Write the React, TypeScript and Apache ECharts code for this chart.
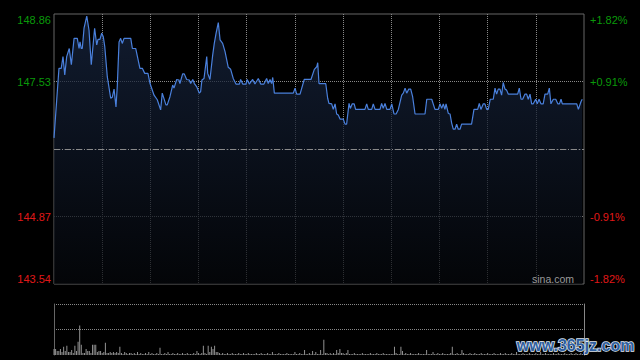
import React, { useEffect, useRef } from "react";
import * as echarts from "echarts";

// Intraday price: [minute since open, price]
const pricePoints: [number, number][] = [
  [0, 146.42], [3.1, 147.79], [4.5, 147.79], [5.6, 148.02], [6.7, 147.66], [7.9, 148.02], [9.5, 148.18], [10.8, 147.86],
  [12.5, 148.38], [14.5, 148.38], [15.6, 148.18], [16.2, 148.31], [17.0, 148.18], [17.6, 148.18], [18.7, 148.58], [20.4, 148.82],
  [21.8, 148.54], [23.2, 147.86], [25.3, 148.58], [26.6, 148.25], [27.4, 148.36], [28.6, 148.36], [29.7, 148.48], [30.7, 148.41],
  [31.6, 148.22], [33.2, 147.62], [35.3, 147.20], [36.3, 147.22], [37.4, 147.38], [38.6, 147.03], [39.4, 147.43], [40.5, 148.31],
  [41.5, 148.38], [42.5, 148.28], [43.6, 148.38], [47.8, 148.38], [48.8, 148.18], [50.9, 148.18], [53.5, 147.79], [55.0, 147.79],
  [56.5, 147.69], [58.5, 147.69], [59.8, 147.49], [62.3, 147.26], [64.3, 147.17], [66.4, 146.97], [67.4, 147.30], [69.7, 147.07],
  [70.5, 147.07], [72.2, 147.23], [73.9, 147.46], [74.7, 147.40], [76.4, 147.57], [77.8, 147.56], [78.4, 147.49], [80.1, 147.68],
  [81.1, 147.68], [82.6, 147.57], [84.2, 147.56], [85.1, 147.49], [86.4, 147.57], [87.4, 147.49], [88.8, 147.43], [90.5, 147.30],
  [91.3, 147.33], [92.1, 147.56], [93.4, 147.59], [95.1, 148.02], [95.7, 147.69], [97.1, 147.57], [98.8, 148.05], [99.8, 148.28],
  [100.9, 148.48], [102.3, 148.69], [103.4, 148.35], [105.0, 148.28], [106.5, 148.12], [108.5, 147.81], [110.0, 147.77], [111.6, 147.59],
  [113.3, 147.48], [115.4, 147.48], [116.2, 147.57], [117.5, 147.48], [119.5, 147.48], [120.3, 147.57], [121.6, 147.48], [123.7, 147.57],
  [125.1, 147.48], [127.2, 147.59], [128.7, 147.48], [130.7, 147.48], [132.4, 147.59], [133.4, 147.49], [134.5, 147.57], [135.5, 147.49],
  [136.2, 147.61], [137.2, 147.30], [149.0, 147.30], [150.1, 147.40], [151.1, 147.28], [153.2, 147.28], [155.8, 147.57], [160.0, 147.57],
  [162.1, 147.77], [163.6, 147.82], [164.2, 147.90], [165.0, 147.49], [169.2, 147.49], [170.4, 147.20], [171.2, 147.10], [172.9, 147.09],
  [173.9, 146.98], [175.0, 147.09], [176.0, 146.89], [177.0, 146.87], [178.1, 146.79], [180.1, 146.79], [181.2, 146.69], [182.2, 146.69],
  [183.7, 147.10], [184.5, 147.00], [185.7, 147.09], [186.9, 147.09], [187.8, 146.98], [193.6, 146.98], [194.7, 147.09], [195.7, 146.98],
  [197.8, 146.98], [198.8, 147.09], [199.9, 146.98], [203.0, 146.98], [204.0, 147.10], [205.0, 147.00], [206.1, 147.10], [207.2, 146.98],
  [209.2, 146.98], [210.3, 147.09], [211.7, 146.89], [213.0, 146.89], [214.4, 146.98], [216.5, 147.26], [217.5, 147.30], [218.6, 147.40],
  [219.6, 147.30], [220.9, 147.38], [222.1, 147.38], [223.3, 147.23], [224.8, 146.89], [231.0, 146.89], [232.1, 147.18], [235.2, 147.18],
  [237.2, 146.98], [239.3, 146.98], [240.3, 147.09], [241.4, 147.00], [242.4, 147.09], [243.4, 146.98], [244.1, 147.09], [245.5, 146.90],
  [246.6, 146.89], [247.6, 146.71], [248.6, 146.59], [249.7, 146.59], [250.7, 146.69], [251.7, 146.59], [252.8, 146.59], [253.8, 146.69],
  [260.0, 146.69], [261.5, 146.98], [263.8, 146.98], [264.8, 147.10], [265.8, 146.98], [267.3, 147.09], [268.3, 147.09], [269.4, 146.98],
  [270.4, 146.98], [271.6, 147.18], [273.5, 147.18], [274.6, 147.40], [275.6, 147.28], [276.6, 147.38], [277.7, 147.38], [278.7, 147.26],
  [279.7, 147.51], [280.8, 147.38], [281.8, 147.36], [282.9, 147.28], [288.7, 147.28], [289.7, 147.40], [290.8, 147.18], [291.8, 147.18],
  [293.2, 147.28], [294.3, 147.28], [295.3, 147.18], [296.4, 147.28], [297.4, 147.09], [298.4, 147.09], [299.9, 147.18], [300.9, 147.09],
  [302.0, 147.18], [303.2, 147.09], [304.6, 147.09], [305.7, 147.28], [307.4, 147.28], [308.4, 147.40], [309.4, 147.09], [310.9, 147.18],
  [312.4, 147.18], [313.7, 147.09], [314.7, 147.09], [315.7, 147.18], [316.5, 147.09], [325.5, 147.09], [326.5, 146.98], [328.1, 147.13],
  [328.9, 147.18],
];

// Volume per minute (minute 0..329)
const volumes: number[] = [
  6, 6, 4, 4, 6, 3, 8, 4, 9, 3,
  3, 5, 2, 9, 4, 13, 29, 10, 2, 2,
  6, 4, 4, 2, 10, 10, 10, 3, 4, 4,
  2, 3, 12, 2, 2, 3, 2, 3, 2, 3,
  2, 8, 2, 1, 3, 2, 1, 2, 2, 1,
  2, 1, 3, 1, 2, 1, 1, 2, 1, 3,
  1, 2, 1, 1, 2, 1, 7, 1, 1, 2,
  1, 3, 1, 1, 2, 1, 1, 2, 1, 1,
  2, 1, 1, 2, 1, 1, 1, 2, 1, 4,
  2, 1, 2, 9, 2, 1, 9, 3, 8, 6,
  9, 3, 3, 2, 1, 2, 1, 1, 2, 1,
  1, 2, 1, 1, 1, 2, 1, 1, 2, 1,
  1, 2, 1, 1, 1, 1, 2, 1, 1, 2,
  1, 1, 1, 2, 1, 1, 3, 1, 1, 1,
  2, 1, 1, 1, 1, 2, 1, 1, 1, 1,
  3, 1, 1, 2, 1, 1, 5, 1, 1, 2,
  1, 4, 1, 3, 1, 1, 5, 1, 15, 2,
  2, 1, 2, 1, 2, 1, 5, 2, 6, 2,
  2, 1, 2, 5, 1, 1, 1, 2, 1, 1,
  1, 1, 2, 1, 1, 1, 1, 2, 1, 1,
  1, 2, 1, 1, 1, 2, 1, 1, 1, 1,
  1, 1, 8, 2, 1, 1, 8, 4, 1, 2,
  1, 1, 2, 1, 1, 1, 1, 2, 1, 1,
  1, 1, 5, 1, 1, 1, 3, 1, 1, 2,
  1, 1, 2, 1, 1, 1, 1, 2, 8, 1,
  1, 2, 1, 1, 5, 2, 1, 1, 1, 2,
  1, 1, 2, 1, 1, 1, 2, 1, 1, 1,
  2, 1, 1, 1, 2, 1, 1, 1, 2, 1,
  1, 2, 1, 1, 1, 2, 1, 1, 3, 1,
  1, 1, 2, 1, 1, 1, 2, 1, 1, 1,
  2, 1, 1, 3, 1, 1, 2, 1, 1, 1,
  1, 2, 1, 1, 2, 1, 1, 1, 2, 1,
  1, 1, 2, 1, 1, 2, 1, 1, 2, 1,
];

const prevClose = 146.2;
const priceMin = 143.54;
const priceMax = 148.86;
const priceStep = 1.33;
const pctMin = -1.82;
const pctMax = 1.82;
const pctStep = 0.91;
const sessionMinutes = 330;
const minuteStep = 30;

const GREEN = "#0a9a0a";
const RED = "#e01818";
const FONT = "'Liberation Sans', Arial, sans-serif";

export default function App() {
  const ref = useRef<HTMLDivElement>(null);
  useEffect(() => {
    document.body.style.margin = "0";
    document.body.style.background = "#000";
    const chart = echarts.init(ref.current!, null, { renderer: "svg" });
    const dotted = { color: "#888", width: 1, type: [1, 1] as number[] };
    chart.setOption({
      animation: false,
      backgroundColor: "#000",
      grid: [
        { left: 54, top: 14, width: 530, height: 270, show: true, borderColor: "#666", borderWidth: 1, backgroundColor: "transparent" },
        { left: 54, top: 304, width: 530, height: 51, show: false },
      ],
      xAxis: [
        {
          gridIndex: 0, type: "value", min: 0, max: sessionMinutes, interval: minuteStep,
          axisLine: { show: false }, axisTick: { show: false }, axisLabel: { show: false },
          splitLine: { show: true, lineStyle: dotted, showMinLine: false, showMaxLine: false },
        },
        {
          gridIndex: 1, type: "value", min: 0, max: sessionMinutes, interval: minuteStep,
          axisLine: { show: false }, axisTick: { show: false }, axisLabel: { show: false }, splitLine: { show: false },
        },
      ],
      yAxis: [
        {
          gridIndex: 0, type: "value", min: priceMin, max: priceMax, interval: priceStep, position: "left",
          axisLine: { show: false }, axisTick: { show: false },
          splitLine: { show: true, lineStyle: dotted, showMinLine: false, showMaxLine: false },
          axisLabel: {
            margin: 3, fontSize: 11, fontFamily: FONT,
            verticalAlignMaxLabel: "top", verticalAlignMinLabel: "bottom",
            formatter: (v: number) => (Math.abs(v - prevClose) < 0.001 ? "" : v.toFixed(2)),
            color: (v: any) => (parseFloat(v) > prevClose ? GREEN : RED),
          },
        },
        {
          gridIndex: 0, type: "value", min: pctMin, max: pctMax, interval: pctStep, position: "right",
          axisLine: { show: false }, axisTick: { show: false }, splitLine: { show: false },
          axisLabel: {
            margin: 6, fontSize: 11, fontFamily: FONT,
            verticalAlignMaxLabel: "top", verticalAlignMinLabel: "bottom",
            formatter: (v: number) => (Math.abs(v) < 0.001 ? "" : (v > 0 ? "+" : "") + v.toFixed(2) + "%"),
            color: (v: any) => (parseFloat(v) > 0 ? GREEN : RED),
          },
        },
        {
          gridIndex: 1, type: "value", min: 0, max: 50, interval: 25, position: "left",
          axisLine: { show: true, lineStyle: { color: "#666", width: 1 } }, axisTick: { show: false }, axisLabel: { show: false },
          splitLine: { show: true, lineStyle: dotted, showMinLine: false },
        },
        {
          gridIndex: 1, type: "value", min: 0, max: 50, interval: 25, position: "right",
          axisLine: { show: true, lineStyle: { color: "#888", width: 1 } }, axisTick: { show: false }, axisLabel: { show: false },
          splitLine: { show: false },
        },
      ],
      series: [
        {
          type: "line", xAxisIndex: 0, yAxisIndex: 0,
          data: pricePoints,
          showSymbol: false, symbol: "none", smooth: false,
          lineStyle: { color: "#4a80dc", width: 1.2 },
          areaStyle: {
            color: new echarts.graphic.LinearGradient(0, 0, 0, 1, [
              { offset: 0, color: "#182743" },
              { offset: 1, color: "#05070b" },
            ]),
          },
          markLine: {
            silent: true, symbol: "none", label: { show: false },
            lineStyle: { color: "#8a8a8a", width: 1, type: [6, 2, 1, 2] },
            data: [{ yAxis: prevClose }],
          },
          z: 3,
        },
        {
          type: "bar", xAxisIndex: 1, yAxisIndex: 2,
          data: volumes.map((v, i) => [i, v]),
          barWidth: 1,
          itemStyle: { color: "#929292" },
        },
      ],
      graphic: [
        {
          type: "text", left: 532, top: 273,
          style: { text: "sina.com", fill: "#9a9a9a", font: `10.5px ${FONT}` },
          z: 10,
        },
        {
          type: "text", left: 516, top: 337,
          style: {
            text: "www.365jz.com", fill: "#2f5f9f", stroke: "#dfe6f0", lineWidth: 1.5,
            font: `bold 16px ${FONT}`,
          },
          z: 20,
        },
      ],
    });
    return () => chart.dispose();
  }, []);
  return <div ref={ref} style={{ position: "fixed", left: 0, top: 0, width: 640, height: 360 }} />;
}
